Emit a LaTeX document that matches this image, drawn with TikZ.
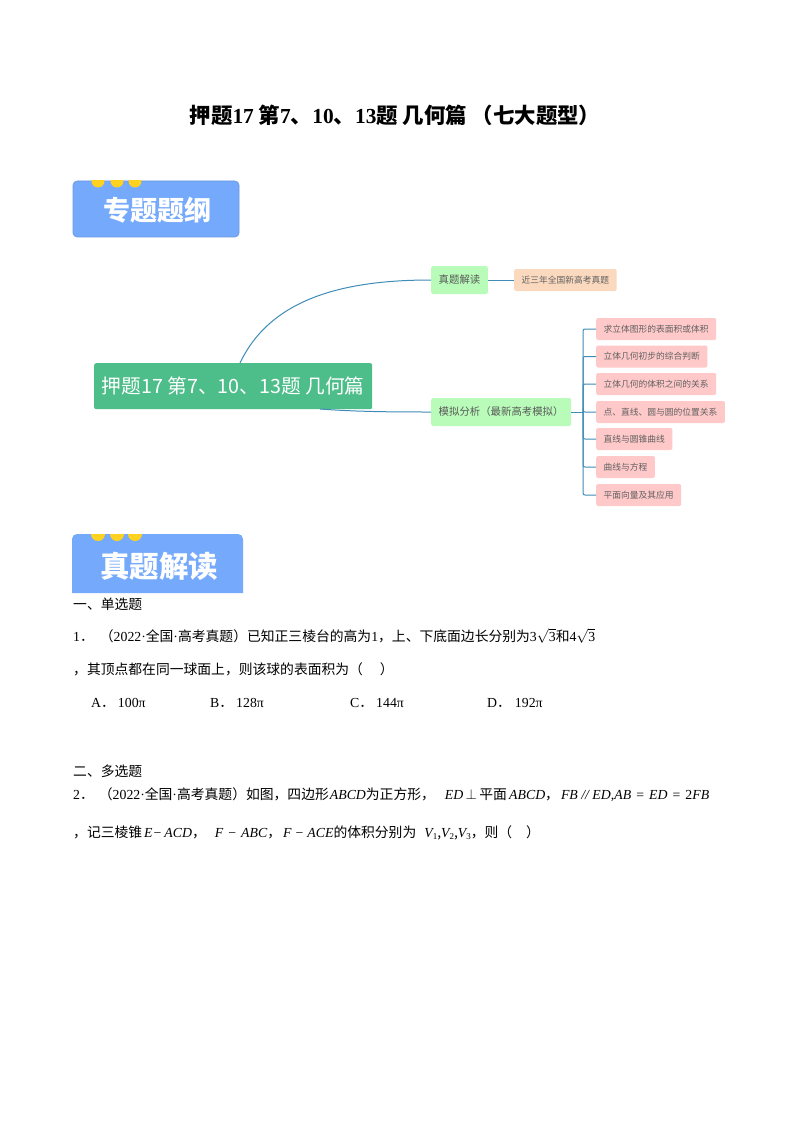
\documentclass[tikz,border=0pt]{standalone}
\usepackage{fontspec}
\setmainfont{Noto Sans CJK SC}
\newfontfamily\ser{Liberation Serif}
\newcommand{\vr}[1]{{\ser\itshape #1}}
\newcommand{\rt}[1]{$\sqrt{\hbox{\ser #1}}$}
\newcommand{\subn}[1]{{\ser\fontsize{9}{9}\selectfont\raisebox{-2pt}{#1}}}
\usetikzlibrary{positioning}
\definecolor{bannerblue}{HTML}{75A9FB}
\definecolor{bannerline}{HTML}{6A98E0}
\definecolor{dotyellow}{HTML}{FFD21F}
\definecolor{mainteal}{HTML}{4DBD8A}
\definecolor{topicgreen}{HTML}{B9FBB9}
\definecolor{leafpeach}{HTML}{FBD9BF}
\definecolor{leafpink}{HTML}{FFC9C9}
\definecolor{linkblue}{HTML}{3F8CB8}
\tikzset{
  bannertext/.style={text=white, font=\bfseries\fontsize{27}{27}\selectfont, anchor=center},
  mainbox/.style={fill=mainteal, text=white, rounded corners=2pt, anchor=north west, minimum width=278pt, minimum height=46pt, inner sep=0pt, font=\fontsize{19.7}{20}\selectfont},
  topicbox/.style={fill=topicgreen, text=black!65, rounded corners=2pt, anchor=west, minimum height=28pt, inner xsep=7.5pt, inner ysep=0pt, font=\fontsize{10.4}{11}\selectfont},
  leafbox/.style={fill=leafpink, text=black!62, rounded corners=2pt, anchor=west, minimum height=22pt, inner xsep=7.5pt, inner ysep=0pt, font=\fontsize{8.75}{10}\selectfont},
  link/.style={draw=linkblue, line width=1pt},
  bodytext/.style={anchor=west, inner sep=0pt, text=black, font=\fontsize{13.8}{14}\selectfont}
}
\begin{document}
\begin{tikzpicture}[x=1pt,y=-1pt]
  \useasboundingbox (0,0) rectangle (794,1123);
  \fill[white] (0,0) rectangle (794,1123);
  \node[anchor=center, inner sep=0pt, font=\bfseries\fontsize{21.4}{22}\selectfont] (title) at (395,115)
    {押题{\ser 17} 第{\ser 7}、{\ser 10}、{\ser 13}题 几何篇 （七大题型）};
  % first banner
  \fill[bannerblue, draw=bannerline, line width=0.6pt, rounded corners=4pt] (73,181) rectangle (239,237);
  \begin{scope}
    \clip (73,181) rectangle (239,195);
    \foreach \x in {98,117,135}
      \fill[dotyellow] (\x,181) circle (6.5pt);
  \end{scope}
  \node[bannertext] (outline) at (157,210) {专题题纲};
  % mind map
  \node[mainbox] (root) at (94,363) {押题17 第7、10、13题 几何篇};
  \node[topicbox] (real) at (431,280) {真题解读};
  \node[topicbox] (sim) at (431,412) {模拟分析（最新高考模拟）};
  \node[leafbox, fill=leafpeach, anchor=west] (recent) at (514,280) {近三年全国新高考真题};
  \draw[link] (240,363) .. controls (270,300) and (340,280) .. (real.west);
  \draw[link] (real.east) -- (recent.west);
  \draw[link] (320,409) .. controls (360,412) and (400,412) .. (sim.west);
  \coordinate (trunk) at (583,412);
  \draw[link] (sim.east) -- (trunk);
  \foreach \i/\y/\txt in {1/329/求立体图形的表面积或体积, 2/356.5/立体几何初步的综合判断, 3/384/立体几何的体积之间的关系, 4/412/点、直线、圆与圆的位置关系, 5/439/直线与圆锥曲线, 6/467/曲线与方程, 7/495/平面向量及其应用} {
    \node[leafbox] (leaf\i) at (596,\y) {\txt};
    \draw[link, rounded corners=2pt] (trunk) |- (leaf\i.west);
  }
  % second banner
  \fill[bannerblue] (72,593) [rounded corners=5pt] -- (72,534) -- (243,534) [sharp corners] -- (243,593) -- cycle;
  \begin{scope}
    \clip (72,534) rectangle (243,548);
    \foreach \x in {98,117,135}
      \fill[dotyellow] (\x,534) circle (7pt);
  \end{scope}
  \node[bannertext, font=\bfseries\fontsize{29.5}{30}\selectfont] (reading) at (159,566) {真题解读};
  % questions
  \node[bodytext] (single) at (73,604) {一、单选题};
  \node[bodytext] (q1a) at (73,636) {{\ser 1}．\hspace{6pt}（{\ser 2022·}全国{\ser ·}高考真题）已知正三棱台的高为{\ser 1}，上、下底面边长分别为{\ser 3}\rt{3}和{\ser 4}\rt{3}};
  \node[bodytext] (q1b) at (73,669) {，其顶点都在同一球面上，则该球的表面积为（\hspace{17pt}）};
  \node[bodytext] (optA) at (91,703) {{\ser A}．\hspace{3pt}{\ser 100π}};
  \node[bodytext] (optB) at (210,703) {{\ser B}．\hspace{3pt}{\ser 128π}};
  \node[bodytext] (optC) at (350,703) {{\ser C}．\hspace{3pt}{\ser 144π}};
  \node[bodytext] (optD) at (487,703) {{\ser D}．\hspace{4pt}{\ser 192π}};
  \node[bodytext] (multi) at (73,771) {二、多选题};
  \node[bodytext] (q2a) at (73,795) {{\ser 2}．\hspace{5pt}（{\ser 2022·}全国{\ser ·}高考真题）如图，四边形\hspace{1pt}\vr{ABCD}为正方形，\hspace{10pt}\vr{ED}$\,\perp\,$平面\,\vr{ABCD}，\hspace{2pt}\vr{FB // ED,AB} \hspace{2pt}{\ser =}\hspace{2pt} \vr{ED} \hspace{2pt}{\ser =}\hspace{2pt} {\ser 2}\vr{FB}};
  \node[bodytext] (q2b) at (73,833) {，记三棱锥\hspace{2pt}\vr{E}\hspace{1pt}{\ser −}\hspace{3pt}\vr{ACD}，\hspace{9pt}\vr{F}\hspace{2pt} {\ser −}\hspace{2pt} \vr{ABC}，\hspace{2pt}\vr{F}\hspace{1pt} {\ser −}\hspace{1pt} \vr{ACE}的体积分别为\hspace{8pt}\vr{V}\subn{1},\vr{V}\subn{2},\vr{V}\subn{3}，则（\hspace{14pt}）};
\end{tikzpicture}
\end{document}
